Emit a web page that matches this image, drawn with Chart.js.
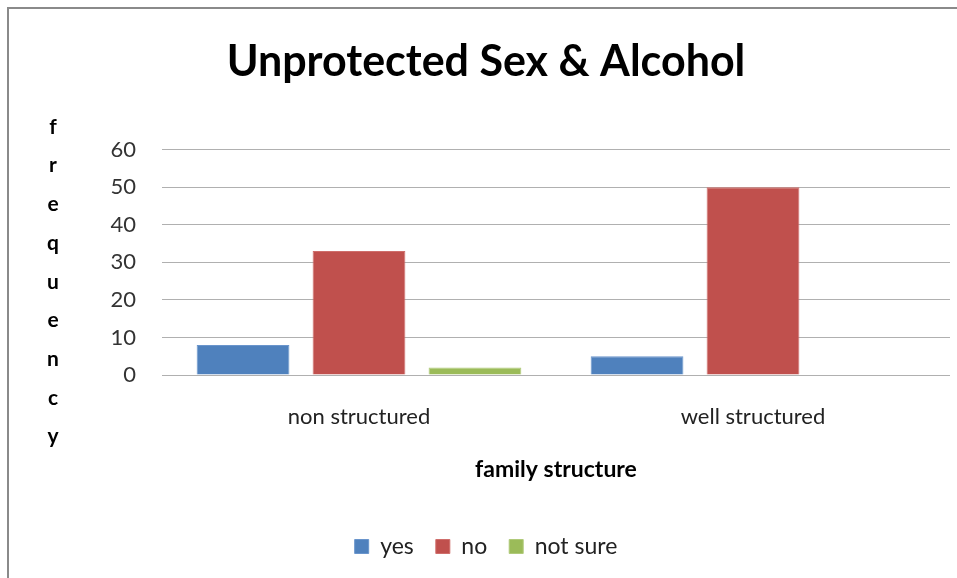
<!DOCTYPE html>
<html>
<head>
<meta charset="utf-8">
<script src="https://cdn.jsdelivr.net/npm/chart.js@4"></script>
<style>
  html, body { margin: 0; padding: 0; background: #fff; }
  #wrap { width: 957px; height: 578px; position: relative; }
</style>
</head>
<body>
<div id="wrap"><canvas id="c" width="957" height="578"></canvas></div>
<script>
const categories = ["non structured", "well structured"];
const seriesNames = ["yes", "no", "not sure"];
const yesValues = [8, 5];
const noValues = [33, 50];
const notSureValues = [2, 0];
const yTicks = [0, 10, 20, 30, 40, 50, 60];
const chartTitle = "Unprotected Sex & Alcohol";
const xTitle = "family structure";
const yTitle = "frequency";

const FONT = "Lato, 'Open Sans', sans-serif";

const decor = {
  id: 'decor',
  beforeDraw(chart) {
    const ctx = chart.ctx;
    ctx.save();
    ctx.fillStyle = '#fff';
    ctx.fillRect(0, 0, chart.width, chart.height);
    ctx.strokeStyle = '#8a8a8a';
    ctx.lineWidth = 2;
    ctx.beginPath();
    ctx.moveTo(8, chart.height);
    ctx.lineTo(8, 8);
    ctx.lineTo(chart.width, 8);
    ctx.stroke();
    ctx.restore();
  },
  afterDraw(chart) {
    const ctx = chart.ctx;
    ctx.save();
    ctx.fillStyle = '#000';
    ctx.font = "bold 21px " + FONT;
    ctx.textAlign = 'center';
    ctx.textBaseline = 'middle';
    const letters = yTitle.split('');
    const startY = 127, step = 38.7;
    letters.forEach((l, i) => ctx.fillText(l, 53, startY + i * step));
    ctx.restore();
  }
};

new Chart(document.getElementById('c'), {
  type: 'bar',
  data: {
    labels: categories,
    datasets: [
      { label: seriesNames[0], data: yesValues, backgroundColor: '#4F81BD', borderColor: '#6a95cc', borderWidth: 1 },
      { label: seriesNames[1], data: noValues, backgroundColor: '#C0504D', borderColor: '#cf6e6b', borderWidth: 1 },
      { label: seriesNames[2], data: notSureValues, backgroundColor: '#9BBB59', borderColor: '#b0ca7a', borderWidth: 1 }
    ]
  },
  plugins: [decor],
  options: {
    responsive: false,
    animation: false,
    devicePixelRatio: 1,
    layout: { padding: { left: 22, right: 7, top: 0, bottom: 10 } },
    datasets: { bar: { categoryPercentage: 0.883, barPercentage: 0.8 } },
    plugins: {
      title: {
        display: true,
        text: chartTitle,
        color: '#000',
        font: { family: FONT, size: 43, weight: 'bold' },
        padding: { top: 36, bottom: 62 }
      },
      legend: {
        position: 'bottom',
        labels: {
          color: '#222',
          font: { family: FONT, size: 23 },
          boxWidth: 14,
          boxHeight: 14,
          padding: 22
        }
      },
      tooltip: { enabled: false }
    },
    scales: {
      x: {
        grid: { display: false, drawTicks: false },
        border: { display: false },
        ticks: { color: '#222', font: { family: FONT, size: 22 }, padding: 29 },
        title: {
          display: true,
          text: xTitle,
          color: '#000',
          font: { family: FONT, size: 23, weight: 'bold' },
          padding: { top: 4, bottom: 30 }
        },
        afterFit(scale) { scale.height = 138; }
      },
      y: {
        min: 0,
        max: 60,
        afterBuildTicks(scale) { scale.ticks = yTicks.map(v => ({ value: v })); },
        grid: { color: '#b0b0b0', lineWidth: 1, drawTicks: false },
        border: { display: false },
        ticks: { color: '#333', font: { family: FONT, size: 22 }, padding: 26 },
        afterFit(scale) { scale.width = 140; }
      }
    }
  }
});
</script>
</body>
</html>
